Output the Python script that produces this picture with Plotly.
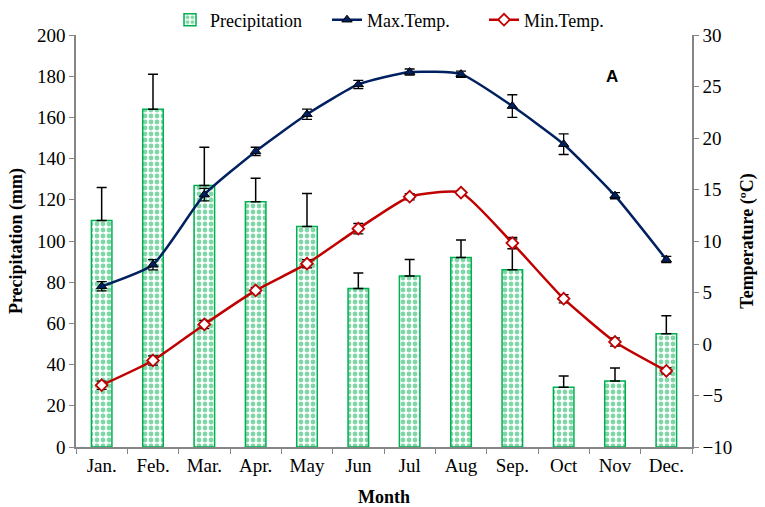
import plotly.graph_objects as go

months = ["Jan.", "Feb.", "Mar.", "Apr.", "May", "Jun", "Jul", "Aug", "Sep.", "Oct", "Nov", "Dec."]
precip = [110, 164, 127, 119, 107, 77, 83, 92, 86, 29, 32, 55]
precip_err = [16, 17, 18.5, 11.5, 16, 7.5, 8, 8.5, 15, 5.5, 6.3, 8.7]
tmax = [5.6, 7.7, 14.5, 18.7, 22.3, 25.2, 26.4, 26.2, 23.1, 19.4, 14.4, 8.2]
tmax_err = [0.45, 0.5, 0.6, 0.4, 0.5, 0.4, 0.3, 0.3, 1.1, 1.0, 0.3, 0.3]
tmin = [-4.0, -1.6, 1.9, 5.2, 7.8, 11.2, 14.3, 14.7, 9.8, 4.4, 0.2, -2.6]
tmin_err = [0.4, 0.45, 0.4, 0.3, 0.4, 0.5, 0.3, 0.2, 0.55, 0.4, 0.4, 0.3]

serif = "Liberation Serif"
axis_gray = "#868686"

fig = go.Figure()
fig.add_trace(go.Bar(
    x=months, y=precip, name="Precipitation", width=0.4,
    marker=dict(color="white", line=dict(color="#00B050", width=1.5),
                pattern=dict(shape=".", fgcolor="#00B050", bgcolor="white",
                             size=6, solidity=0.5, fillmode="overlay")),
    error_y=dict(type="data", symmetric=False, array=precip_err,
                 arrayminus=[0] * len(precip_err), color="black",
                 thickness=1.5, width=5),
    yaxis="y",
))
fig.add_trace(go.Scatter(
    x=months, y=tmax, name="Max.Temp.", mode="lines+markers",
    line=dict(color="#002060", width=2.5, shape="spline", smoothing=0.5),
    marker=dict(symbol="triangle-up", size=9, color="#002060",
                line=dict(color="black", width=1)),
    error_y=dict(type="data", array=tmax_err, color="black", thickness=1.3, width=5),
    yaxis="y2",
))
fig.add_trace(go.Scatter(
    x=months, y=tmin, name="Min.Temp.", mode="lines+markers",
    line=dict(color="#C00000", width=2.5, shape="spline", smoothing=0.5),
    marker=dict(symbol="diamond", size=9, color="white",
                line=dict(color="#C00000", width=1.8)),
    error_y=dict(type="data", array=tmin_err, color="black", thickness=1.3, width=5),
    yaxis="y2",
))

fig.add_annotation(text="<b>A</b>", x=(612 - 76) / 616, y=(447 - 77) / 412,
                   xref="paper", yref="paper", xanchor="center", yanchor="middle",
                   showarrow=False,
                   font=dict(family="Liberation Sans", size=17, color="black"))

fig.update_layout(
    width=765, height=507,
    margin=dict(l=76, r=73, t=35, b=60, autoexpand=False),
    paper_bgcolor="white", plot_bgcolor="white",
    font=dict(family=serif, size=18, color="black"),
    showlegend=True,
    legend=dict(orientation="h", x=(170 - 76) / 616, xanchor="left", y=1.0 + 15 / 412,
                yanchor="middle", font=dict(family=serif, size=18),
                bgcolor="rgba(0,0,0,0)", tracegroupgap=0,
                entrywidth=112, entrywidthmode="pixels"),
    bargap=0.6,
    xaxis=dict(
        title=dict(text="<b>Month</b>", font=dict(family=serif, size=18), standoff=16),
        range=[-0.5, len(months) - 0.5], autorange=False,
        showline=True, linecolor=axis_gray, linewidth=1.5,
        ticks="outside", tickson="boundaries", ticklen=5, tickcolor=axis_gray,
        tickfont=dict(family=serif, size=19), showgrid=False, zeroline=False,
        automargin=False,
    ),
    yaxis=dict(
        title=dict(text="<b>Precipitation (mm)</b>", font=dict(family=serif, size=18), standoff=10),
        range=[0, 200], dtick=20, showline=True, linecolor=axis_gray, linewidth=1.5,
        ticks="outside", ticklen=5, tickcolor=axis_gray, showgrid=False, zeroline=False,
        tickfont=dict(family=serif, size=19), automargin=False,
    ),
    yaxis2=dict(
        title=dict(text="<b>Temperature (ºC)</b>", font=dict(family=serif, size=18), standoff=9),
        range=[-10, 30], dtick=5, overlaying="y", side="right",
        showline=True, linecolor=axis_gray, linewidth=1.5,
        ticks="outside", ticklen=5, tickcolor=axis_gray, showgrid=False, zeroline=False,
        tickfont=dict(family=serif, size=19), automargin=False,
    ),
)

fig.write_html("out.html", config={"displayModeBar": False},
               post_script="document.body.style.margin='0';document.body.style.padding='0';")
